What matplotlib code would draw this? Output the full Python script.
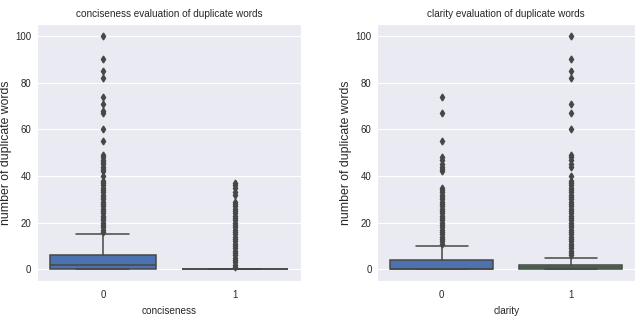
import matplotlib
matplotlib.use("Agg")
import matplotlib.pyplot as plt
from matplotlib import font_manager
import seaborn as sns

sns.set_style("darkgrid")

# box statistics (number of duplicate words)
groups = ["0", "1"]

conc_q1 = [0, 0]
conc_med = [2, 0]
conc_q3 = [6, 0]
conc_lo = [0, 0]
conc_hi = [15, 0]
conc_fliers = [
    [16, 17, 18, 19, 20, 21, 22, 23, 24, 25, 26, 27, 28, 29, 30, 31, 32, 33,
     34, 35, 36, 37, 38, 40, 42, 43, 44, 45, 46, 47, 48, 49,
     55, 60, 67, 68, 71, 74, 82, 85, 90, 100],
    [1, 2, 3, 4, 5, 6, 7, 8, 9, 10, 11, 12, 13, 14, 15, 16, 17, 18, 19, 20,
     21, 22, 23, 24, 25, 26, 27, 28, 29, 32, 33, 35, 36, 37],
]

clar_q1 = [0, 0]
clar_med = [0, 1]
clar_q3 = [4, 2]
clar_lo = [0, 0]
clar_hi = [10, 5]
clar_fliers = [
    [11, 12, 13, 14, 15, 16, 17, 18, 19, 20, 21, 22, 23, 24, 25, 26, 27, 28,
     29, 30, 31, 32, 33, 34, 35, 42, 43, 44, 45, 47, 48, 55, 67, 74],
    [6, 7, 8, 9, 10, 11, 12, 13, 14, 15, 16, 17, 18, 19, 20, 21, 22, 23, 24,
     25, 26, 27, 28, 29, 30, 31, 32, 33, 34, 35, 36, 37, 38, 40,
     44, 45, 47, 48, 49, 60, 67, 71, 82, 85, 90, 100],
]

box_colors = ["#4C72B0", "#55A868"]
line_col = "#474747"
text_col = "#262626"

# narrow face for ticks / titles if it exists, otherwise shrink the regular one
installed = {f.name for f in font_manager.fontManager.ttflist}
if "Liberation Sans Narrow" in installed:
    narrow, scale = "Liberation Sans Narrow", 1.0
else:
    narrow, scale = "Liberation Sans", 0.87


def make_stats(q1, med, q3, lo, hi, fliers):
    return [dict(q1=q1[i], med=med[i], q3=q3[i], whislo=lo[i], whishi=hi[i],
                 fliers=fliers[i], label=groups[i]) for i in range(len(groups))]


def draw(ax, stats, title, xlabel):
    lw = 1.1
    res = ax.bxp(stats, positions=[0, 1], widths=0.8, patch_artist=True,
                 showfliers=True,
                 boxprops=dict(edgecolor=line_col, linewidth=lw),
                 medianprops=dict(color=line_col, linewidth=lw),
                 whiskerprops=dict(color=line_col, linewidth=lw),
                 capprops=dict(color=line_col, linewidth=lw),
                 flierprops=dict(marker="d", markersize=3.5, markerfacecolor=line_col,
                                 markeredgecolor=line_col, linestyle="none"))
    for patch, c in zip(res["boxes"], box_colors):
        patch.set_facecolor(c)
    for cap in res["caps"]:
        x0, x1 = cap.get_xdata()
        mid = (x0 + x1) / 2
        cap.set_xdata([mid - 0.2, mid + 0.2])
    ax.xaxis.grid(False)
    ax.set_xlim(-0.5, 1.5)
    ax.set_ylim(-5, 105)
    ax.set_yticks([0, 20, 40, 60, 80, 100])
    ax.set_xticks([0, 1])
    ax.set_xticklabels(groups)
    for lab in ax.get_xticklabels() + ax.get_yticklabels():
        lab.set_family(narrow)
        lab.set_fontsize(8 * scale)
        lab.set_color(text_col)
    ax.tick_params(axis="y", length=0, pad=4)
    ax.tick_params(axis="x", length=0, pad=6.5)
    ax.set_title(title, family=narrow, fontsize=8.3 * scale, color=text_col, pad=5)
    ax.set_xlabel(xlabel, family=narrow, fontsize=8.3 * scale, color=text_col,
                  labelpad=4)
    ax.set_ylabel("number of duplicate words", family="Liberation Sans",
                  fontsize=8.8, color=text_col, labelpad=2.5)


fig = plt.figure(figsize=(6.36, 3.22), dpi=100)
ax1 = fig.add_axes([0.058, 0.127, 0.415, 0.798])
ax2 = fig.add_axes([0.593, 0.127, 0.406, 0.798])

draw(ax1, make_stats(conc_q1, conc_med, conc_q3, conc_lo, conc_hi, conc_fliers),
     "conciseness evaluation of duplicate words", "conciseness")
draw(ax2, make_stats(clar_q1, clar_med, clar_q3, clar_lo, clar_hi, clar_fliers),
     "clarity evaluation of duplicate words", "clarity")

fig.savefig("out.png", dpi=100)
